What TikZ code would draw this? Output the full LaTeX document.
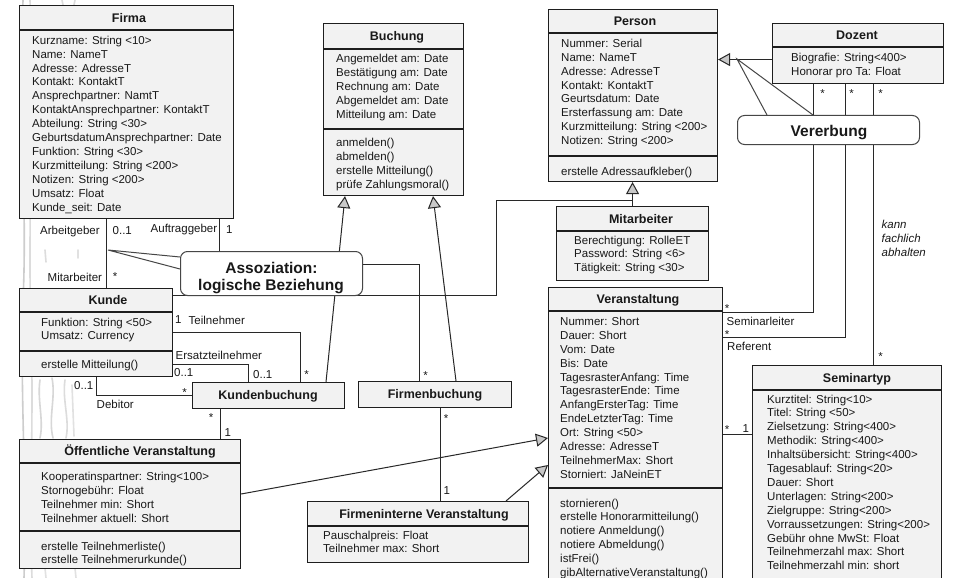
\documentclass[tikz,border=0pt]{standalone}
\usepackage{fontspec}
\setmainfont{Liberation Sans}
\usetikzlibrary{arrows.meta}

\definecolor{boxfill}{RGB}{242,242,242}
\definecolor{boxline}{RGB}{30,30,30}
\definecolor{linec}{RGB}{40,40,40}
\definecolor{tipfill}{RGB}{200,200,200}
\definecolor{textc}{RGB}{25,25,25}
\definecolor{sketchc}{RGB}{205,205,205}
\definecolor{callline}{RGB}{70,70,70}

\newcommand{\rowfont}{\fontsize{11.5}{13.9}\selectfont}
\newcommand{\headfont}{\fontsize{12.5}{14}\selectfont\bfseries}

% class frame: name, x1, y1, x2, y2
\newcommand{\umlbox}[5]{%
  \node[classbox, anchor=north west, minimum width={(#4)-(#2)},
        minimum height={(#5)-(#3)}] (#1) at (#2,#3) {};}
% compartment separator: name, y
\newcommand{\umlsep}[2]{\draw[sepline] (#1.west |- 0,#2) -- (#1.east |- 0,#2);}
% rows of text: prefix, x, first baseline, step, list
\newcommand{\umlrows}[5]{%
  \foreach \rowtext [count=\i] in {#5}
    {\node[attr] (#1-\i) at ({#2},{#3+(\i-1)*#4}) {\rowtext};}}

\begin{document}
\begin{tikzpicture}[x=1pt, y=-1pt,
  classbox/.style={draw=boxline, fill=boxfill, line width=1.1pt, inner sep=0pt, rectangle},
  sepline/.style={draw=boxline, line width=1.1pt},
  ctitle/.style={font=\headfont, inner sep=0pt, anchor=base, text=textc},
  attr/.style={font=\rowfont, inner sep=0pt, anchor=base west, text=textc},
  lbl/.style={font=\rowfont, inner sep=0pt, anchor=base west, text=textc},
  ilbl/.style={lbl, font=\rowfont\itshape},
  star/.style={font=\rowfont, inner sep=0pt, anchor=base, text=textc},
  assoc/.style={draw=linec, line width=1pt},
  gen/.style={assoc, -{Triangle[length=12pt, width=13pt, fill=tipfill]}},
  callout/.style={draw=callline, fill=white, rounded corners=7pt, line width=1pt, inner sep=0pt},
  pointer/.style={draw=callline, line width=1pt},
  calltext/.style={font=\fontsize{15.5}{17}\selectfont\bfseries, inner sep=0pt, anchor=base, text=textc},
  sketch/.style={draw=sketchc, line width=1.6pt, line cap=round}]

\useasboundingbox (0,0) rectangle (954,578);
\clip (0,0) rectangle (954,578);
\fill[white] (0,0) rectangle (954,578);

% faint pencil strokes along the left margin
\draw[sketch] (23,0) .. controls (20,120) and (27,220) .. (23,300) .. controls (20,400) and (27,480) .. (24,578);
\draw[sketch, sketchc!70] (30,0) .. controls (33,100) and (28,250) .. (31,330) .. controls (34,420) and (29,500) .. (32,578);
\draw[sketch, sketchc!80] (40,380) .. controls (37,400) and (44,420) .. (40,438);
\draw[sketch, sketchc!80] (52,378) .. controls (56,398) and (48,418) .. (53,438);
\draw[sketch, sketchc!70] (65,380) .. controls (62,400) and (70,420) .. (66,438);
\draw[sketch, sketchc!60] (72,385) -- (74,436);
\draw[sketch, sketchc!70] (45,250) -- (46,262);
\draw[sketch, sketchc!70] (62,0) -- (63,5);
\draw[sketch, sketchc!70] (75,0) -- (74,5);
\draw[sketch, sketchc!60] (78,250) -- (78,258);
\draw[sketch, sketchc!60] (45,568) -- (46,578);
\draw[sketch, sketchc!60] (75,568) -- (76,578);

% ---------- classes ----------
\umlbox{firma}{19}{5}{233}{218}
\umlsep{firma}{30}
\node[ctitle] (firma-t) at (129,22.5) {Firma};
\umlrows{firma-a}{32}{44.3}{13.9}{Kurzname: String <10>, Name: NameT, Adresse: AdresseT,
  Kontakt: KontaktT, Ansprechpartner: NamtT, KontaktAnsprechpartner: KontaktT,
  Abteilung: String <30>, GeburtsdatumAnsprechpartner: Date, Funktion: String <30>,
  Kurzmitteilung: String <200>, Notizen: String <200>, Umsatz: Float, Kunde\_seit: Date}

\umlbox{buchung}{323}{23}{463}{195}
\umlsep{buchung}{49}
\umlsep{buchung}{129}
\node[ctitle] (buchung-t) at (397,40.5) {Buchung};
\umlrows{buchung-a}{336}{62.5}{13.9}{Angemeldet am: Date, Bestätigung am: Date,
  Rechnung am: Date, Abgemeldet am: Date, Mitteilung am: Date}
\umlrows{buchung-m}{336}{146.5}{13.9}{anmelden(), abmelden(), erstelle Mitteilung(),
  prüfe Zahlungsmoral()}

\umlbox{person}{548}{9}{717}{181}
\umlsep{person}{33}
\umlsep{person}{156}
\node[ctitle] (person-t) at (635,25.5) {Person};
\umlrows{person-a}{561}{47.3}{13.9}{Nummer: Serial, Name: NameT, Adresse: AdresseT,
  Kontakt: KontaktT, Geurtsdatum: Date, Ersterfassung am: Date,
  Kurzmitteilung: String <200>, Notizen: String <200>}
\umlrows{person-m}{561}{175}{13.9}{erstelle Adressaufkleber()}

\umlbox{dozent}{772}{23}{943}{83}
\umlsep{dozent}{47}
\node[ctitle] (dozent-t) at (857,39.5) {Dozent};
\umlrows{dozent-a}{791}{61.5}{13.9}{Biografie: String<400>, Honorar pro Ta: Float}

\umlbox{mitarbeiter}{556}{206}{708}{280}
\umlsep{mitarbeiter}{231}
\node[ctitle] (mitarbeiter-t) at (641,223) {Mitarbeiter};
\umlrows{mitarbeiter-a}{574}{244}{13.9}{Berechtigung: RolleET, Password: String <6>,
  Tätigkeit: String <30>}

\umlbox{veranst}{548}{287}{722}{600}
\umlsep{veranst}{311}
\umlsep{veranst}{488}
\node[ctitle] (veranst-t) at (638,303.5) {Veranstaltung};
\umlrows{veranst-a}{560}{325.3}{13.93}{Nummer: Short, Dauer: Short, Vom: Date, Bis: Date,
  TagesrasterAnfang: Time, TagesrasterEnde: Time, AnfangErsterTag: Time,
  EndeLetzterTag: Time, Ort: String <50>, Adresse: AdresseT, TeilnehmerMax: Short,
  Storniert: JaNeinET}
\umlrows{veranst-m}{560}{507}{13.9}{stornieren(), erstelle Honorarmitteilung(),
  notiere Anmeldung(), notiere Abmeldung(), istFrei(), gibAlternativeVeranstaltung()}

\umlbox{seminartyp}{752}{365}{941}{600}
\umlsep{seminartyp}{390}
\node[ctitle] (seminartyp-t) at (857,382) {Seminartyp};
\umlrows{seminartyp-a}{767}{403}{13.9}{Kurztitel: String<10>, Titel: String <50>,
  Zielsetzung: String<400>, Methodik: String<400>, Inhaltsübersicht: String<400>,
  Tagesablauf: String<20>, Dauer: Short, Unterlagen: String<200>, Zielgruppe: String<200>,
  Vorraussetzungen: String<200>, Gebühr ohne MwSt: Float, Teilnehmerzahl max: Short,
  Teilnehmerzahl min: short}

\umlbox{kunde}{19}{288}{172}{376}
\umlsep{kunde}{312}
\umlsep{kunde}{351}
\node[ctitle] (kunde-t) at (108,304.5) {Kunde};
\umlrows{kunde-a}{41}{326}{13.9}{Funktion: String <50>, Umsatz: Currency}
\umlrows{kunde-m}{41}{368.5}{13.9}{erstelle Mitteilung()}

\umlbox{kb}{192}{382}{344}{408}
\node[ctitle] (kb-t) at (268,399.5) {Kundenbuchung};

\umlbox{fb}{358}{381}{511}{407}
\node[ctitle] (fb-t) at (435,398.5) {Firmenbuchung};

\umlbox{ov}{19}{439}{240}{568}
\umlsep{ov}{463}
\umlsep{ov}{531}
\node[ctitle] (ov-t) at (140,455.5) {Öffentliche Veranstaltung};
\umlrows{ov-a}{41}{480.3}{13.9}{Kooperatinspartner: String<100>, Stornogebühr: Float,
  Teilnehmer min: Short, Teilnehmer aktuell: Short}
\umlrows{ov-m}{41}{550}{13.9}{erstelle Teilnehmerliste(), erstelle Teilnehmerurkunde()}

\umlbox{fv}{307}{501}{528}{562}
\umlsep{fv}{526}
\node[ctitle] (fv-t) at (424,518) {Firmeninterne Veranstaltung};
\umlrows{fv-a}{323}{539}{13.9}{Pauschalpreis: Float, Teilnehmer max: Short}

% ---------- associations ----------
\draw[assoc] ([xshift=87]firma.south west) -- ([xshift=87]kunde.north west);
\draw[assoc] ([xshift=200]firma.south west) -- ++(0,45) -| ([xshift=61]fb.north west);
\draw[assoc] ([yshift=-44]kunde.north east) -| ([xshift=108]kb.north west);
\draw[assoc] ([yshift=-76]kunde.north east) -| ([xshift=56]kb.north west);
\draw[assoc] ([xshift=77]kunde.south west) |- (kb.west);
\draw[assoc] ([xshift=28]kb.south west) -- ([xshift=201]ov.north west);
\draw[assoc] ([xshift=82]fb.south west) -- ([xshift=133]fv.north west);
\draw[assoc] ([xshift=41]dozent.south west) |- ([yshift=-25]veranst.north east);
\draw[assoc] ([xshift=73]dozent.south west) |- ([yshift=-50]veranst.north east);
\draw[assoc] ([xshift=101]dozent.south west) -- ([xshift=121]seminartyp.north west);
\coordinate (vs) at ([yshift=-147]veranst.north east);
\draw[assoc] (vs) -- (vs -| seminartyp.west);

% ---------- generalisations ----------
\draw[gen] ([xshift=134]kb.north west) -- ([xshift=22]buchung.south west);
\draw[gen] ([xshift=98]fb.north west) -- ([xshift=110]buchung.south west);
\draw[gen] (mitarbeiter.north) -- (mitarbeiter.north |- person.south);
\draw[assoc] ([yshift=-7]kunde.north east) -- ++(323,0) |- (mitarbeiter.north |- 0,200);
\coordinate (dz) at ([yshift=-6]dozent.west);
\draw[gen] (dz) -- (dz -| person.east);
\draw[gen] ([yshift=-55]ov.north east) -- ([yshift=-151]veranst.north west);
\draw[gen] ([xshift=199]fv.north west) -- ([yshift=-178]veranst.north west);

% ---------- role names and multiplicities ----------
\node[lbl] (l-arb) at (40,234) {Arbeitgeber};
\node[lbl] (l-arb-m) at (112.5,234) {0..1};
\node[lbl] (l-auf) at (150.5,232.5) {Auftraggeber};
\node[lbl] (l-auf-m) at (226,233) {1};
\node[lbl] (l-mit) at (47.5,281) {Mitarbeiter};
\node[star] (l-mit-m) at (115,280) {*};
\node[lbl] (l-tn-m) at (175,323.5) {1};
\node[lbl] (l-tn) at (188.5,324) {Teilnehmer};
\node[lbl] (l-ers) at (175.5,359) {Ersatzteilnehmer};
\node[lbl] (l-ers-m) at (174,376) {0..1};
\node[lbl] (l-ers-m2) at (253,378) {0..1};
\node[star] (l-tn-m2) at (306.5,378.5) {*};
\node[lbl] (l-deb-m) at (74,389) {0..1};
\node[star] (l-deb-m2) at (184.5,396.5) {*};
\node[lbl] (l-deb) at (96.5,408.5) {Debitor};
\node[star] (l-kb-m) at (211,421.5) {*};
\node[lbl] (l-ov-m) at (224.5,436) {1};
\node[star] (l-fb-m) at (425.5,379) {*};
\node[star] (l-fb-m2) at (446,422.5) {*};
\node[lbl] (l-fv-m) at (443.5,494.5) {1};
\node[star] (l-dz1) at (822.5,97.5) {*};
\node[star] (l-dz2) at (851.5,97.5) {*};
\node[star] (l-dz3) at (880.5,97.5) {*};
\node[star] (l-sl-m) at (727,312.5) {*};
\node[lbl] (l-sl) at (726.5,325.5) {Seminarleiter};
\node[star] (l-ref-m) at (727,338.5) {*};
\node[lbl] (l-ref) at (727,350) {Referent};
\node[star] (l-st-m) at (880.5,360) {*};
\node[ilbl] (l-kann1) at (881.5,228.5) {kann};
\node[ilbl] (l-kann2) at (881.5,242.5) {fachlich};
\node[ilbl] (l-kann3) at (881.5,256.5) {abhalten};
\node[star] (l-vs-m) at (727,433.5) {*};
\node[lbl] (l-vs-m2) at (742.5,432.5) {1};

% ---------- callouts ----------
\node[callout, anchor=north west, minimum width=182, minimum height=44] (assoz) at (180,251) {};
\node[calltext] (assoz-t1) at (271.5,273.3) {Assoziation:};
\node[calltext] (assoz-t2) at (271,290.7) {logische Beziehung};
\coordinate (assoz-tip) at (108,250);
\draw[pointer] (assoz.west |- 0,257) -- (assoz-tip) -- (assoz.west |- 0,269);

\node[callout, anchor=north west, minimum width=182, minimum height=29] (ver) at (737,115) {};
\node[calltext] (ver-t) at (829,136.7) {Vererbung};
\coordinate (ver-tip) at (737,59);
\draw[pointer] ([xshift=30]ver.north west) -- (ver-tip) -- ([xshift=76]ver.north west);
\end{tikzpicture}
\end{document}
